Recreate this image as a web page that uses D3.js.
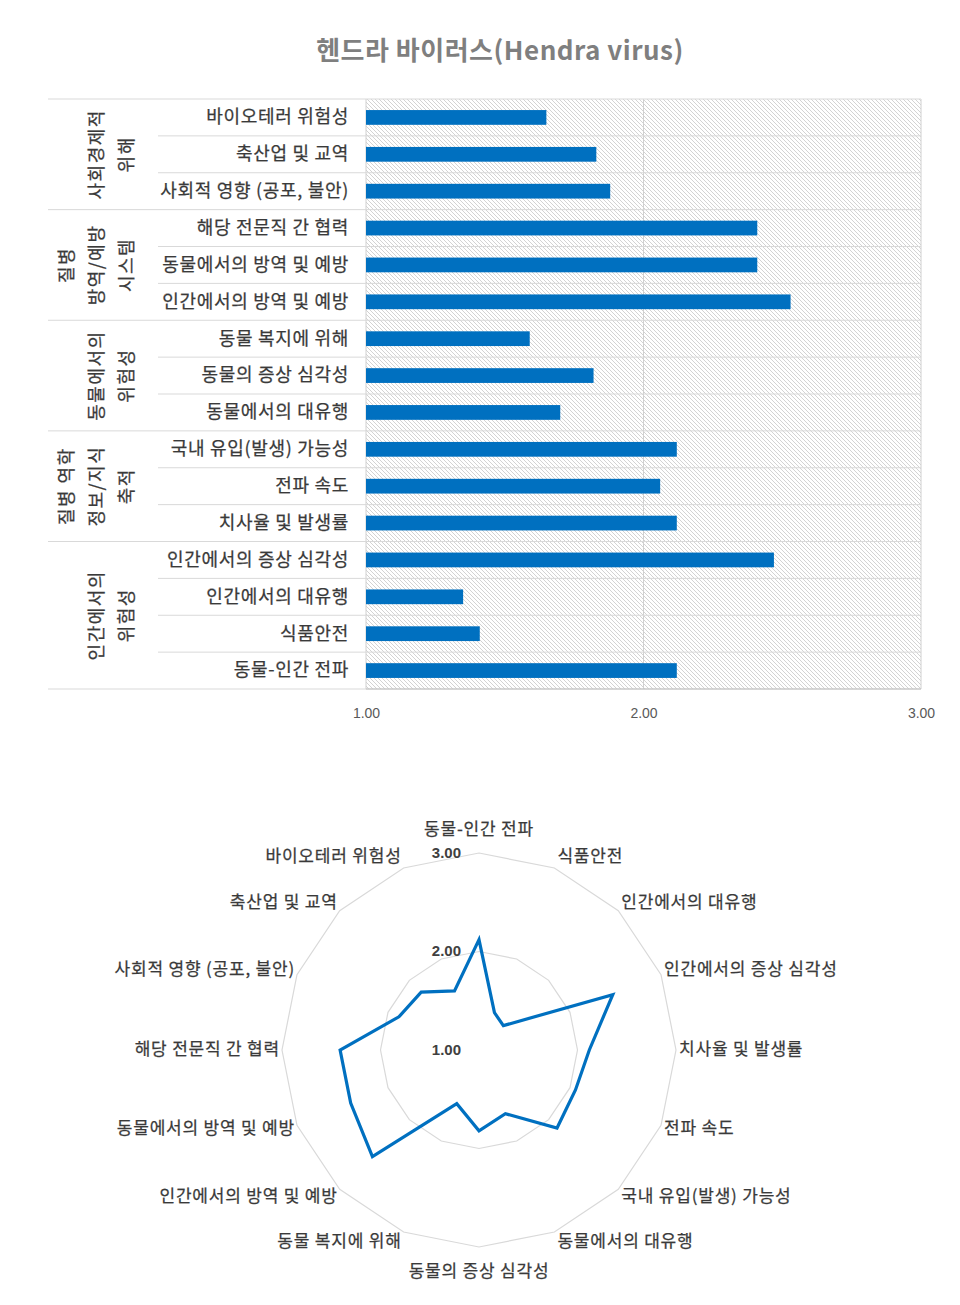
<!DOCTYPE html>
<html>
<head>
<meta charset="utf-8">
<script src="https://cdn.jsdelivr.net/npm/d3@7"></script>
<style>
  html, body { margin: 0; padding: 0; background: #fff; }
  svg { display: block; font-family: "Noto Sans CJK KR", "Noto Sans", sans-serif; }
</style>
</head>
<body>
<svg id="chart" width="960" height="1305"></svg>
<script>
// ---- data (in series order; the bar chart shows it bottom-up) ----
const title = "헨드라 바이러스(Hendra virus)";
const categories = [
  "동물-인간 전파", "식품안전", "인간에서의 대유행", "인간에서의 증상 심각성",
  "치사율 및 발생률", "전파 속도", "국내 유입(발생) 가능성",
  "동물에서의 대유행", "동물의 증상 심각성", "동물 복지에 위해",
  "인간에서의 방역 및 예방", "동물에서의 방역 및 예방", "해당 전문직 간 협력",
  "사회적 영향 (공포, 불안)", "축산업 및 교역", "바이오테러 위험성"
];
const values = [2.12, 1.41, 1.35, 2.47, 2.12, 2.06, 2.12, 1.70, 1.82, 1.59, 2.53, 2.41, 2.41, 1.88, 1.83, 1.65];
// groups, listed top to bottom as in the bar chart
const groupLines = [
  ["사회경제적", "위해"],
  ["질병", "방역/예방", "시스템"],
  ["동물에서의", "위험성"],
  ["질병 역학", "정보/지식", "축적"],
  ["인간에서의", "위험성"]
];
const groupSizes = [3, 3, 3, 3, 4];
const barTicks = [1, 2, 3];
const radarTicks = [1, 2, 3];

(function () {
const svg = d3.select("#chart");
const blue = "#0070C0";
const txt = "#3a3a3a";

// ---- title ----
svg.append("text")
  .attr("x", 500).attr("y", 53)
  .attr("text-anchor", "middle").attr("dominant-baseline", "middle")
  .attr("font-size", 26).attr("font-weight", "bold").attr("fill", "#7f7f7f")
  .attr("letter-spacing", 0.5)
  .text(title);

// ---- bar chart ----
const barOrder = categories.slice().reverse();
const barVals = values.slice().reverse();
const pL = 366, pR = 921, pT = 99, pB = 689;
const x = d3.scaleLinear().domain([1, 3]).range([pL, pR]);
const y = d3.scaleBand().domain(barOrder).range([pT, pB]).paddingInner(0).paddingOuter(0);
const bh = y.bandwidth() * 0.4;

const defs = svg.append("defs");
const pat = defs.append("pattern").attr("id", "hatch")
  .attr("patternUnits", "userSpaceOnUse").attr("width", 4).attr("height", 4);
pat.append("rect").attr("width", 4).attr("height", 4).attr("fill", "#ffffff");
pat.append("path").attr("d", "M-1,-1 L5,5 M-1,3 L1,5 M3,-1 L5,1")
  .attr("stroke", "#c8c8c8").attr("stroke-width", 0.8);

svg.append("rect").attr("x", pL).attr("y", pT)
  .attr("width", pR - pL).attr("height", pB - pT)
  .attr("fill", "url(#hatch)");

// vertical gridlines
svg.append("g").selectAll("line").data(barTicks).join("line")
  .attr("x1", d => x(d)).attr("x2", d => x(d))
  .attr("y1", pT).attr("y2", pB)
  .attr("stroke", "#d0d0d0").attr("stroke-width", 1);

// row separators
const groupStarts = new Set();
let acc = 0;
groupSizes.forEach(s => { groupStarts.add(acc); acc += s; });
svg.append("g").selectAll("line").data(d3.range(barOrder.length + 1)).join("line")
  .attr("x1", i => groupStarts.has(i) || i === barOrder.length ? 48 : 158)
  .attr("x2", pR)
  .attr("y1", i => pT + i * y.step()).attr("y2", i => pT + i * y.step())
  .attr("stroke", "#d9d9d9").attr("stroke-width", 1);

// axis baseline
svg.append("line").attr("x1", pL).attr("x2", pR)
  .attr("y1", pB).attr("y2", pB).attr("stroke", "#bfbfbf");

// bars
svg.append("g").selectAll("rect").data(barOrder).join("rect")
  .attr("x", x(1))
  .attr("y", (d) => y(d) + (y.bandwidth() - bh) / 2)
  .attr("width", (d, i) => x(barVals[i]) - x(1))
  .attr("height", bh)
  .attr("fill", blue);

// category labels
svg.append("g").selectAll("text").data(barOrder).join("text")
  .attr("x", 349).attr("y", d => y(d) + y.bandwidth() / 2 + 1)
  .attr("text-anchor", "end").attr("dominant-baseline", "middle")
  .attr("font-size", 18).attr("fill", txt).attr("letter-spacing", 0.7)
  .attr("stroke", txt).attr("stroke-width", 0.25)
  .text(d => d);

// group labels (rotated)
acc = 0;
groupLines.forEach((lines, gi) => {
  const y0 = pT + acc * y.step();
  const y1 = pT + (acc + groupSizes[gi]) * y.step();
  const gcy = (y0 + y1) / 2;
  const n = lines.length;
  lines.forEach((t, li) => {
    const lx = 128 - 30 * (n - 1 - li);
    svg.append("text")
      .attr("transform", `translate(${lx},${gcy}) rotate(-90)`)
      .attr("text-anchor", "middle").attr("dominant-baseline", "middle")
      .attr("font-size", 18).attr("fill", txt).attr("letter-spacing", 1.5)
      .attr("stroke", txt).attr("stroke-width", 0.25)
      .text(t);
  });
  acc += groupSizes[gi];
});

// x axis tick labels
const xAxis = d3.axisBottom(x).tickValues(barTicks).tickFormat(d3.format(".2f")).tickSize(0).tickPadding(0);
const ax = svg.append("g").attr("transform", `translate(0,${pB + 19})`).call(xAxis);
ax.select(".domain").remove();
ax.selectAll("text").attr("font-size", 14).attr("fill", "#595959")
  .attr("font-family", "'Liberation Sans Narrow', 'Liberation Sans', sans-serif");

// ---- radar chart ----
const cx = 479, cy = 1050, R = 197;
const r = d3.scaleLinear().domain([1, 3]).range([0, R]);
const n = categories.length;
const ang = d3.scaleLinear().domain([0, n]).range([0, 2 * Math.PI]);

const rg = svg.append("g").attr("transform", `translate(${cx},${cy})`);
// rings
rg.selectAll("path.ring").data(radarTicks.filter(t => t > 1)).join("path")
  .attr("class", "ring")
  .attr("d", t => d3.lineRadial().angle((d, i) => ang(i)).radius(r(t)).curve(d3.curveLinearClosed)(categories))
  .attr("fill", "none").attr("stroke", "#d9d9d9").attr("stroke-width", 1.2);

// data line
rg.append("path")
  .attr("d", d3.lineRadial().angle((d, i) => ang(i)).radius(d => r(d)).curve(d3.curveLinearClosed)(values))
  .attr("fill", "none").attr("stroke", blue).attr("stroke-width", 3.2).attr("stroke-linejoin", "miter");

// tick labels
rg.selectAll("text.tick").data(radarTicks).join("text")
  .attr("class", "tick")
  .attr("x", -18).attr("y", t => -r(t) + 1)
  .attr("text-anchor", "end").attr("dominant-baseline", "middle")
  .attr("font-size", 15).attr("font-weight", "bold").attr("fill", "#404040")
  .attr("font-family", "'Liberation Sans', sans-serif")
  .text(d3.format(".2f"));

// category labels
rg.selectAll("text.cat").data(categories).join("text")
  .attr("class", "cat")
  .each(function(d, i) {
    const a = ang(i);
    const s = Math.sin(a), c = Math.cos(a);
    let px = R * s, py = -R * c, anchor;
    if (Math.abs(s) < 1e-6) {
      anchor = "middle";
      py += c > 0 ? -23 : 25;
    } else {
      anchor = s > 0 ? "start" : "end";
      px += s > 0 ? 3 : -2;
      py += -11 * c;
    }
    d3.select(this).attr("x", px).attr("y", py).attr("text-anchor", anchor);
  })
  .attr("dominant-baseline", "middle")
  .attr("font-size", 17).attr("fill", txt).attr("letter-spacing", 0.8)
  .attr("stroke", txt).attr("stroke-width", 0.25)
  .text(d => d);
})();
</script>
</body>
</html>
